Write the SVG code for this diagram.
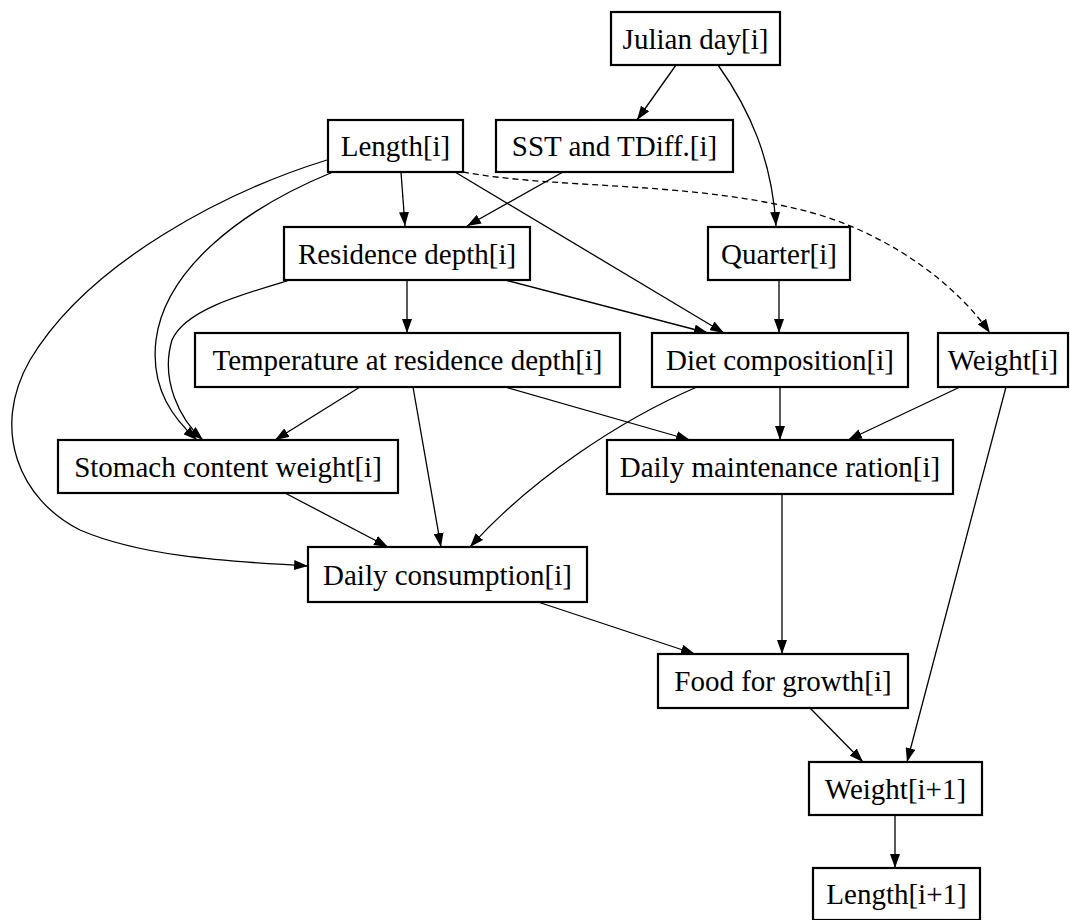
<svg xmlns="http://www.w3.org/2000/svg" width="1070" height="920" viewBox="0 0 1070 920">
<style>
.n rect{fill:#fff;stroke:#000;stroke-width:2.2}
.n text{font-family:"Liberation Serif","Times New Roman",serif;font-size:29px;fill:#000;text-anchor:middle;dominant-baseline:central}
.e path{fill:none;stroke:#000;stroke-width:1.3;marker-end:url(#ah)}
.e path.d{stroke-dasharray:6,4}
</style>
<defs>
<marker id="ah" markerUnits="userSpaceOnUse" markerWidth="14" markerHeight="10" viewBox="0 0 14 10" refX="14" refY="5" orient="auto">
<path d="M0,0 L14,5 L0,10 z" fill="#000"/>
</marker>
</defs>
<rect width="1070" height="920" fill="#fff"/>
<g id="edges" class="e">
<path d="M676,65 L637,120"/>
<path d="M718,65 C750,110 772,160 776,226"/>
<path d="M401,172 L405,226"/>
<path d="M563,172 L467,226"/>
<path d="M455,172 L724,333"/>
<path class="d" d="M463,172 C560,190 700,180 820,215 C900,240 960,290 990,333"/>
<path d="M327,160 C230,190 90,260 30,360 C-10,430 20,500 80,530 C150,560 250,562 308,566"/>
<path d="M333,172 C240,210 165,270 156,340 C150,390 175,420 197,440"/>
<path d="M290,280 C240,295 185,310 172,340 C160,380 180,420 203,440"/>
<path d="M407,280 L407,333"/>
<path d="M505,280 L708,333"/>
<path d="M779,280 L779,333"/>
<path d="M360,387 L275,440"/>
<path d="M413,387 L441,547"/>
<path d="M505,387 L690,440"/>
<path d="M780,387 L780,440"/>
<path d="M697,387 C620,420 530,480 470,547"/>
<path d="M960,387 L848,440"/>
<path d="M1006,387 L907,762"/>
<path d="M285,493 L388,547"/>
<path d="M538,602 L695,654"/>
<path d="M782,494 L782,654"/>
<path d="M810,708 L863,762"/>
<path d="M895,815 L895,868"/>
</g>
<g id="julian" class="n"><rect x="611" y="12" width="169" height="53"/><text x="695.5" y="38.5">Julian day[i]</text></g>
<g id="length" class="n"><rect x="328" y="120" width="135" height="52"/><text x="395.5" y="146">Length[i]</text></g>
<g id="sst" class="n"><rect x="496" y="120" width="237" height="52"/><text x="614.5" y="146">SST and TDiff.[i]</text></g>
<g id="residence" class="n"><rect x="284" y="227" width="246" height="53"/><text x="407" y="253.5">Residence depth[i]</text></g>
<g id="quarter" class="n"><rect x="708" y="227" width="142" height="53"/><text x="779" y="253.5">Quarter[i]</text></g>
<g id="temperature" class="n"><rect x="195" y="333" width="425" height="54"/><text x="407.5" y="360">Temperature at residence depth[i]</text></g>
<g id="diet" class="n"><rect x="652" y="333" width="256" height="54"/><text x="780" y="360">Diet composition[i]</text></g>
<g id="weight" class="n"><rect x="938" y="333" width="130" height="54"/><text x="1003" y="360">Weight[i]</text></g>
<g id="stomach" class="n"><rect x="58" y="440" width="340" height="53"/><text x="228" y="466.5">Stomach content weight[i]</text></g>
<g id="maintenance" class="n"><rect x="607" y="440" width="346" height="54"/><text x="780" y="467">Daily maintenance ration[i]</text></g>
<g id="consumption" class="n"><rect x="308" y="547" width="279" height="55"/><text x="447.5" y="574.5">Daily consumption[i]</text></g>
<g id="food" class="n"><rect x="658" y="654" width="250" height="54"/><text x="783" y="681">Food for growth[i]</text></g>
<g id="weight1" class="n"><rect x="809" y="762" width="173" height="53"/><text x="895.5" y="788.5">Weight[i+1]</text></g>
<g id="length1" class="n"><rect x="813" y="868" width="167" height="52"/><text x="896.5" y="894">Length[i+1]</text></g>
</svg>
